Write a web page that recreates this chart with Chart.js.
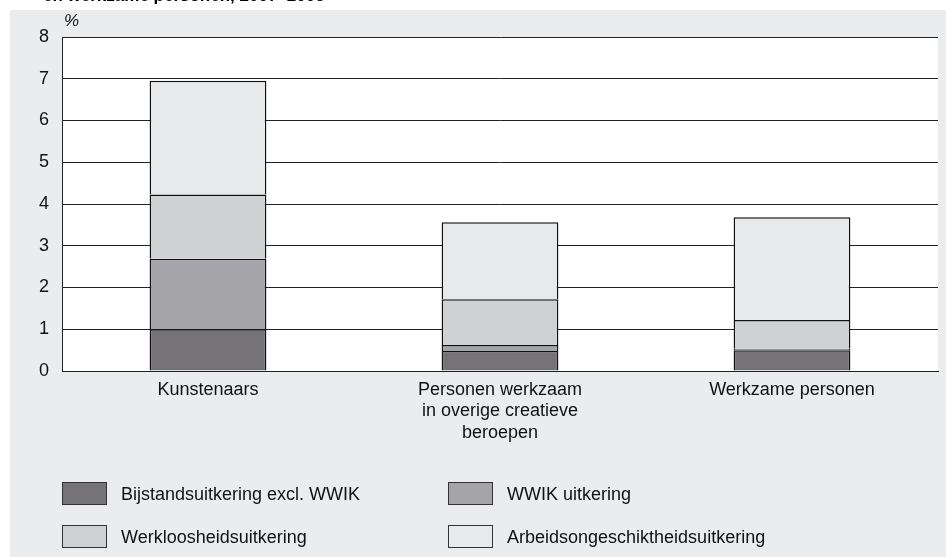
<!DOCTYPE html>
<html>
<head>
<meta charset="utf-8">
<script src="https://cdn.jsdelivr.net/npm/chart.js@4.4.1/dist/chart.umd.min.js"></script>
<style>
  body { margin: 0; background: #fff; }
  canvas { display: block; }
</style>
</head>
<body>
<canvas id="chart" width="946" height="557"></canvas>
<script>
// categorieën en waarden (% van groep)
const categories = [
    "Kunstenaars",
    ["Personen werkzaam", "in overige creatieve", "beroepen"],
    "Werkzame personen"
];
const seriesNames = [
    "Bijstandsuitkering excl. WWIK",
    "WWIK uitkering",
    "Werkloosheidsuitkering",
    "Arbeidsongeschiktheidsuitkering"
];
const bijstand = [1.0, 0.48, 0.50];
const wwik = [1.69, 0.14, 0.03];
const werkloos = [1.54, 1.10, 0.69];
const arbeids = [2.72, 1.84, 2.46];
const yTicks = [0, 1, 2, 3, 4, 5, 6, 7, 8];

const colors = ["#767378", "#a5a4a8", "#d0d1d3", "#e8e9eb"];
const font = "'Liberation Sans', Arial, sans-serif";

// achtergrond, titelrest, % en legenda
const decor = {
    id: "decor",
    beforeDraw(chart) {
        const c = chart.ctx;
        const a = chart.chartArea;
        c.save();
        c.fillStyle = "#fff";
        c.fillRect(0, 0, chart.width, chart.height);
        c.fillStyle = "#ebecee";
        c.fillRect(10, 10, chart.width - 10, chart.height - 10);
        c.fillStyle = "#fff";
        c.fillRect(a.left, a.top, a.right - a.left, a.bottom - a.top);
        c.restore();
    },
    afterDraw(chart) {
        const c = chart.ctx;
        c.save();
        c.fillStyle = "#000";
        c.font = "bold 17px " + font;
        c.textBaseline = "alphabetic";
        c.fillText("en werkzame personen, 2007\u20132008", 43, 1);
        c.font = "italic 17px " + font;
        c.fillStyle = "#111";
        c.fillText("%", 64, 26);

        // legenda in twee kolommen
        const pos = [[62, 482], [448, 482], [62, 525], [448, 525]];
        c.font = "18px " + font;
        c.textBaseline = "middle";
        seriesNames.forEach((name, i) => {
            const [x, y] = pos[i];
            c.fillStyle = colors[i];
            c.fillRect(x, y, 44, 22);
            c.strokeStyle = "#333";
            c.lineWidth = 1;
            c.strokeRect(x + 0.5, y + 0.5, 44, 22);
            c.fillStyle = "#111";
            c.fillText(name, x + 59, y + 13);
        });
        c.restore();
    }
};

const mk = (label, data, i) => ({
    label: label,
    data: data,
    backgroundColor: colors[i],
    borderColor: "#111",
    borderWidth: 1.5,
    borderSkipped: "start",
    barPercentage: 0.4,
    categoryPercentage: 1
});

new Chart(document.getElementById("chart"), {
    type: "bar",
    data: {
        labels: categories,
        datasets: [
            mk(seriesNames[0], bijstand, 0),
            mk(seriesNames[1], wwik, 1),
            mk(seriesNames[2], werkloos, 2),
            mk(seriesNames[3], arbeids, 3)
        ]
    },
    options: {
        responsive: false,
        animation: false,
        layout: { padding: { left: 0, top: 37, right: 8, bottom: 0 } },
        plugins: {
            legend: { display: false },
            tooltip: { enabled: false }
        },
        scales: {
            x: {
                stacked: true,
                grid: { display: false, drawTicks: false },
                border: { display: true, color: "#222", width: 1 },
                ticks: {
                    color: "#111",
                    font: { family: font, size: 18 },
                    padding: 8,
                    maxRotation: 0,
                    autoSkip: false
                },
                afterFit(s) { s.height = 186; }
            },
            y: {
                stacked: true,
                min: 0,
                max: 8,
                afterBuildTicks(s) { s.ticks = yTicks.map(v => ({ value: v })); },
                grid: { color: "#222", lineWidth: 1, drawTicks: false },
                border: { display: true, color: "#222", width: 1 },
                ticks: {
                    color: "#111",
                    font: { family: font, size: 18 },
                    padding: 13
                },
                afterFit(s) { s.width = 62; }
            }
        }
    },
    plugins: [decor]
});
</script>
</body>
</html>
